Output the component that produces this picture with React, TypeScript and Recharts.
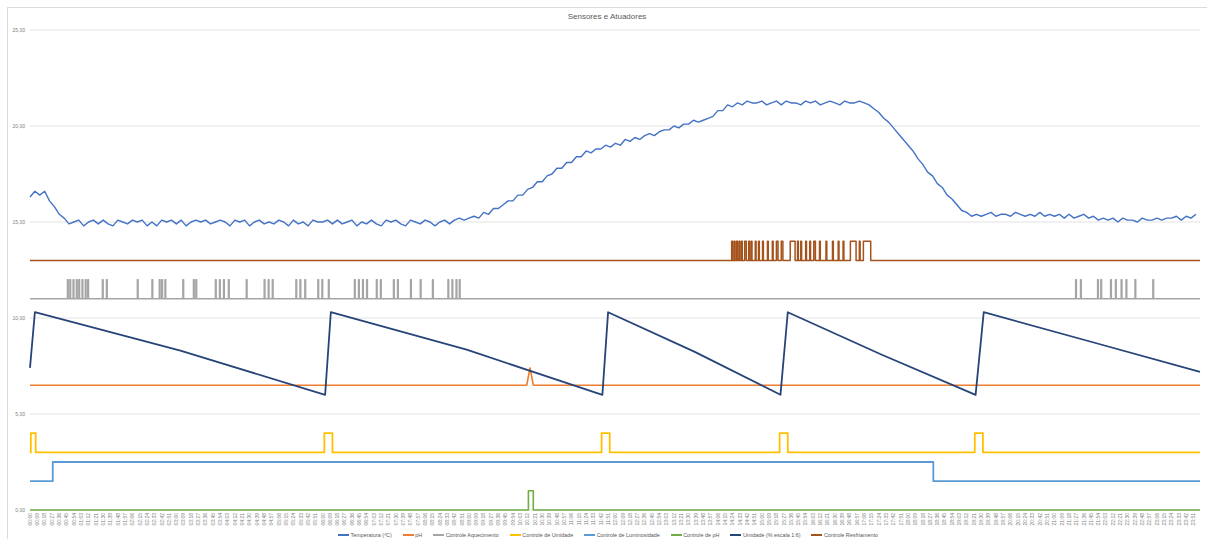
import React from 'react';
import { LineChart, Line, XAxis, YAxis, CartesianGrid } from 'recharts';

const W = 1207;
const H = 539;
const FIM = 1439; // último minuto do dia

// Temperatura (ºC): uma leitura a cada 6 minutos, 10 por hora
const PASSO_TEMP = 6;
const temperatura = [
  16.3, 16.6, 16.4, 16.6, 16.1, 15.8, 15.4, 15.2, 14.9, 15.0, // 00h
  15.1, 14.8, 15.0, 15.1, 14.9, 15.1, 14.9, 14.8, 15.1, 15.0, // 01h
  14.9, 15.1, 15.0, 15.1, 14.8, 15.0, 14.8, 15.1, 15.0, 15.1, // 02h
  14.9, 15.1, 14.8, 15.0, 15.1, 15.0, 15.1, 14.9, 15.0, 15.1, // 03h
  15.0, 14.8, 15.1, 15.0, 15.1, 14.8, 15.0, 15.1, 14.9, 15.0, // 04h
  14.9, 15.1, 15.0, 14.8, 15.1, 14.9, 15.0, 14.8, 15.1, 15.0, // 05h
  15.0, 15.1, 14.9, 15.1, 14.9, 15.0, 15.1, 14.8, 15.0, 14.9, // 06h
  15.1, 14.9, 14.8, 15.1, 15.0, 15.1, 14.9, 14.8, 15.1, 15.0, // 07h
  14.9, 15.1, 15.0, 14.8, 15.0, 15.1, 14.9, 15.1, 15.2, 15.1, // 08h
  15.2, 15.3, 15.2, 15.5, 15.4, 15.7, 15.7, 15.9, 16.1, 16.1, // 09h
  16.4, 16.4, 16.7, 16.8, 17.1, 17.1, 17.4, 17.5, 17.8, 17.8, // 10h
  18.1, 18.1, 18.4, 18.4, 18.7, 18.6, 18.8, 18.8, 19.0, 18.9, // 11h
  19.1, 19.0, 19.3, 19.2, 19.4, 19.3, 19.5, 19.6, 19.5, 19.7, // 12h
  19.8, 19.8, 20.0, 19.9, 20.1, 20.1, 20.3, 20.2, 20.3, 20.4, // 13h
  20.5, 20.8, 20.8, 21.1, 21.0, 21.2, 21.1, 21.3, 21.2, 21.2, // 14h
  21.3, 21.1, 21.2, 21.3, 21.1, 21.3, 21.2, 21.2, 21.1, 21.3, // 15h
  21.2, 21.3, 21.1, 21.2, 21.3, 21.2, 21.1, 21.3, 21.2, 21.2, // 16h
  21.3, 21.2, 21.1, 20.9, 20.7, 20.4, 20.2, 19.9, 19.6, 19.3, // 17h
  19.0, 18.7, 18.3, 18.0, 17.6, 17.4, 17.0, 16.8, 16.4, 16.2, // 18h
  15.9, 15.6, 15.5, 15.3, 15.4, 15.3, 15.4, 15.5, 15.3, 15.4, // 19h
  15.4, 15.3, 15.5, 15.4, 15.3, 15.4, 15.3, 15.5, 15.3, 15.4, // 20h
  15.3, 15.4, 15.2, 15.4, 15.2, 15.3, 15.4, 15.2, 15.3, 15.1, // 21h
  15.2, 15.1, 15.2, 15.0, 15.2, 15.1, 15.1, 15.0, 15.2, 15.1, // 22h
  15.1, 15.2, 15.1, 15.2, 15.2, 15.3, 15.1, 15.3, 15.2, 15.4, // 23h
];

// pH: estável, com um pico rápido perto das 10:15
const ph: [number, number][] = [[0, 6.5], [611, 6.5], [615, 7.4], [619, 6.5], [FIM, 6.5]];

// Umidade (% escala 1:6): sobe a cada irrigação e decai até a próxima
const umidade: [number, number][] = [
  [0, 7.4], [6, 10.3], [185, 8.3], [363, 6.0],
  [370, 10.3], [537, 8.35], [704, 6.0],
  [711, 10.3], [817, 8.25], [923, 6.0],
  [932, 10.3], [1047, 8.1], [1163, 6.0],
  [1173, 10.3], [1306, 8.75], [FIM, 7.2],
];

// Atuadores (minuto em que liga / desliga); cada um desenhado numa faixa própria
const aquecimentoLiga = [
  46, 49, 53, 57, 60, 64, 68, 71, 89, 94, 132, 150, 159, 162, 166, 188, 201, 204,
  228, 233, 238, 244, 266, 288, 293, 298, 327, 332, 338, 354, 359, 367, 399, 404,
  409, 414, 426, 431, 447, 452, 468, 480, 495, 514, 519, 524, 528,
  1286, 1292, 1313, 1317, 1329, 1335, 1342, 1348, 1359, 1381,
];
const resfriamentoLigado: [number, number][] = [
  [863, 864], [866, 867], [869, 870], [872, 873], [875, 876], [879, 881], [884, 885],
  [887, 888], [892, 893], [896, 897], [901, 902], [907, 908], [913, 914], [918, 920],
  [924, 926], [935, 941], [944, 945], [948, 949], [954, 955], [959, 960], [964, 966],
  [971, 972], [979, 980], [987, 988], [994, 995], [1000, 1001], [1009, 1016],
  [1020, 1021], [1025, 1034],
];
const umidadeLigado: [number, number][] = [[1, 7], [362, 372], [703, 713], [922, 932], [1162, 1172]];
const luminosidadeLigado: [number, number][] = [[28, 1111]];
const phLigado: [number, number][] = [[613, 619]];

const yTicks = [0, 5, 10, 15, 20, 25];
const xTicks = Array.from({ length: 160 }, (_, i) => i * 9);

type Ponto = { t: number; v: number };

const pares = (lista: [number, number][]): Ponto[] => lista.map(([t, v]) => ({ t, v }));

function pulsos(base: number, alto: number, intervalos: [number, number][]): Ponto[] {
  const pts: Ponto[] = [{ t: 0, v: base }];
  intervalos.forEach(([a, b]) => {
    pts.push({ t: a, v: base }, { t: a, v: alto }, { t: b, v: alto }, { t: b, v: base });
  });
  pts.push({ t: FIM, v: base });
  return pts;
}

const series = [
  { nome: 'Temperatura (ºC)', cor: '#4472C4', largura: 1.4, dados: temperatura.map((v, i) => ({ t: i * PASSO_TEMP, v })) },
  { nome: 'pH', cor: '#ED7D31', largura: 1.6, dados: pares(ph) },
  { nome: 'Controle Aquecimento', cor: '#A5A5A5', largura: 1.4, dados: pulsos(11, 12, aquecimentoLiga.map((s) => [s, s + 1] as [number, number])) },
  { nome: 'Controle de Umidade', cor: '#FFC000', largura: 1.8, dados: pulsos(3, 4, umidadeLigado) },
  { nome: 'Controle de Luminosidade', cor: '#5B9BD5', largura: 1.8, dados: pulsos(1.5, 2.5, luminosidadeLigado) },
  { nome: 'Controle de pH', cor: '#70AD47', largura: 1.6, dados: pulsos(0, 1, phLigado) },
  { nome: 'Umidade (% escala 1:6)', cor: '#264478', largura: 1.8, dados: pares(umidade) },
  { nome: 'Controle Resfriamento', cor: '#A4531C', largura: 1.5, dados: pulsos(13, 14, resfriamentoLigado) },
];

const hora = (m: number) =>
  `${String(Math.floor(m / 60)).padStart(2, '0')}:${String(m % 60).padStart(2, '0')}`;

const TickHora = ({ x, y, payload }: any) => (
  <text
    transform={`translate(${x + 1.8},${y + 3}) rotate(-90)`}
    textAnchor="end"
    fontSize={5}
    fill="#808080"
  >
    {hora(payload.value)}
  </text>
);

const TickValor = ({ x, y, payload }: any) => (
  <text x={x - 5} y={y} dy={1.8} textAnchor="end" fontSize={5} fill="#808080">
    {payload.value.toFixed(2).replace('.', ',')}
  </text>
);

const fonte = '"Liberation Sans", Arial, sans-serif';

export default function App() {
  return (
    <div style={{ position: 'absolute', left: 0, top: 0, width: W, height: H, background: '#fff', fontFamily: fonte }}>
      <div
        style={{
          position: 'absolute', left: 7, top: 7, width: W - 8, height: H - 7,
          borderTop: '1px solid #DCDCDC', borderLeft: '1px solid #DCDCDC',
        }}
      />
      <div style={{ position: 'absolute', top: 12, left: 0, width: 1214, textAlign: 'center', fontSize: 8, color: '#595959' }}>
        Sensores e Atuadores
      </div>
      <LineChart width={W} height={H} margin={{ top: 30, right: 7, bottom: 0, left: 0 }}>
        <CartesianGrid vertical={false} stroke="#E3E3E3" strokeWidth={1} />
        <XAxis
          dataKey="t"
          type="number"
          domain={[0, FIM]}
          ticks={xTicks}
          interval={0}
          tick={<TickHora />}
          tickLine={false}
          axisLine={false}
          tickSize={0}
          tickMargin={0}
          height={29}
        />
        <YAxis
          type="number"
          domain={[0, 25]}
          ticks={yTicks}
          tick={<TickValor />}
          tickLine={false}
          axisLine={false}
          tickSize={0}
          tickMargin={0}
          width={30}
        />
        {series.map((s) => (
          <Line
            key={s.nome}
            data={s.dados}
            dataKey="v"
            name={s.nome}
            type="linear"
            stroke={s.cor}
            strokeWidth={s.largura}
            strokeLinejoin="round"
            dot={false}
            activeDot={false}
            isAnimationActive={false}
          />
        ))}
      </LineChart>
      <div
        style={{
          position: 'absolute', top: 531, left: 0, width: 1216, display: 'flex',
          justifyContent: 'center', gap: 11, fontSize: 5.4, color: '#595959', lineHeight: '8px',
        }}
      >
        {series.map((s) => (
          <div key={s.nome} style={{ display: 'flex', alignItems: 'center', gap: 1.5 }}>
            <span style={{ display: 'inline-block', width: 11, height: 2, background: s.cor }} />
            <span>{s.nome}</span>
          </div>
        ))}
      </div>
    </div>
  );
}
